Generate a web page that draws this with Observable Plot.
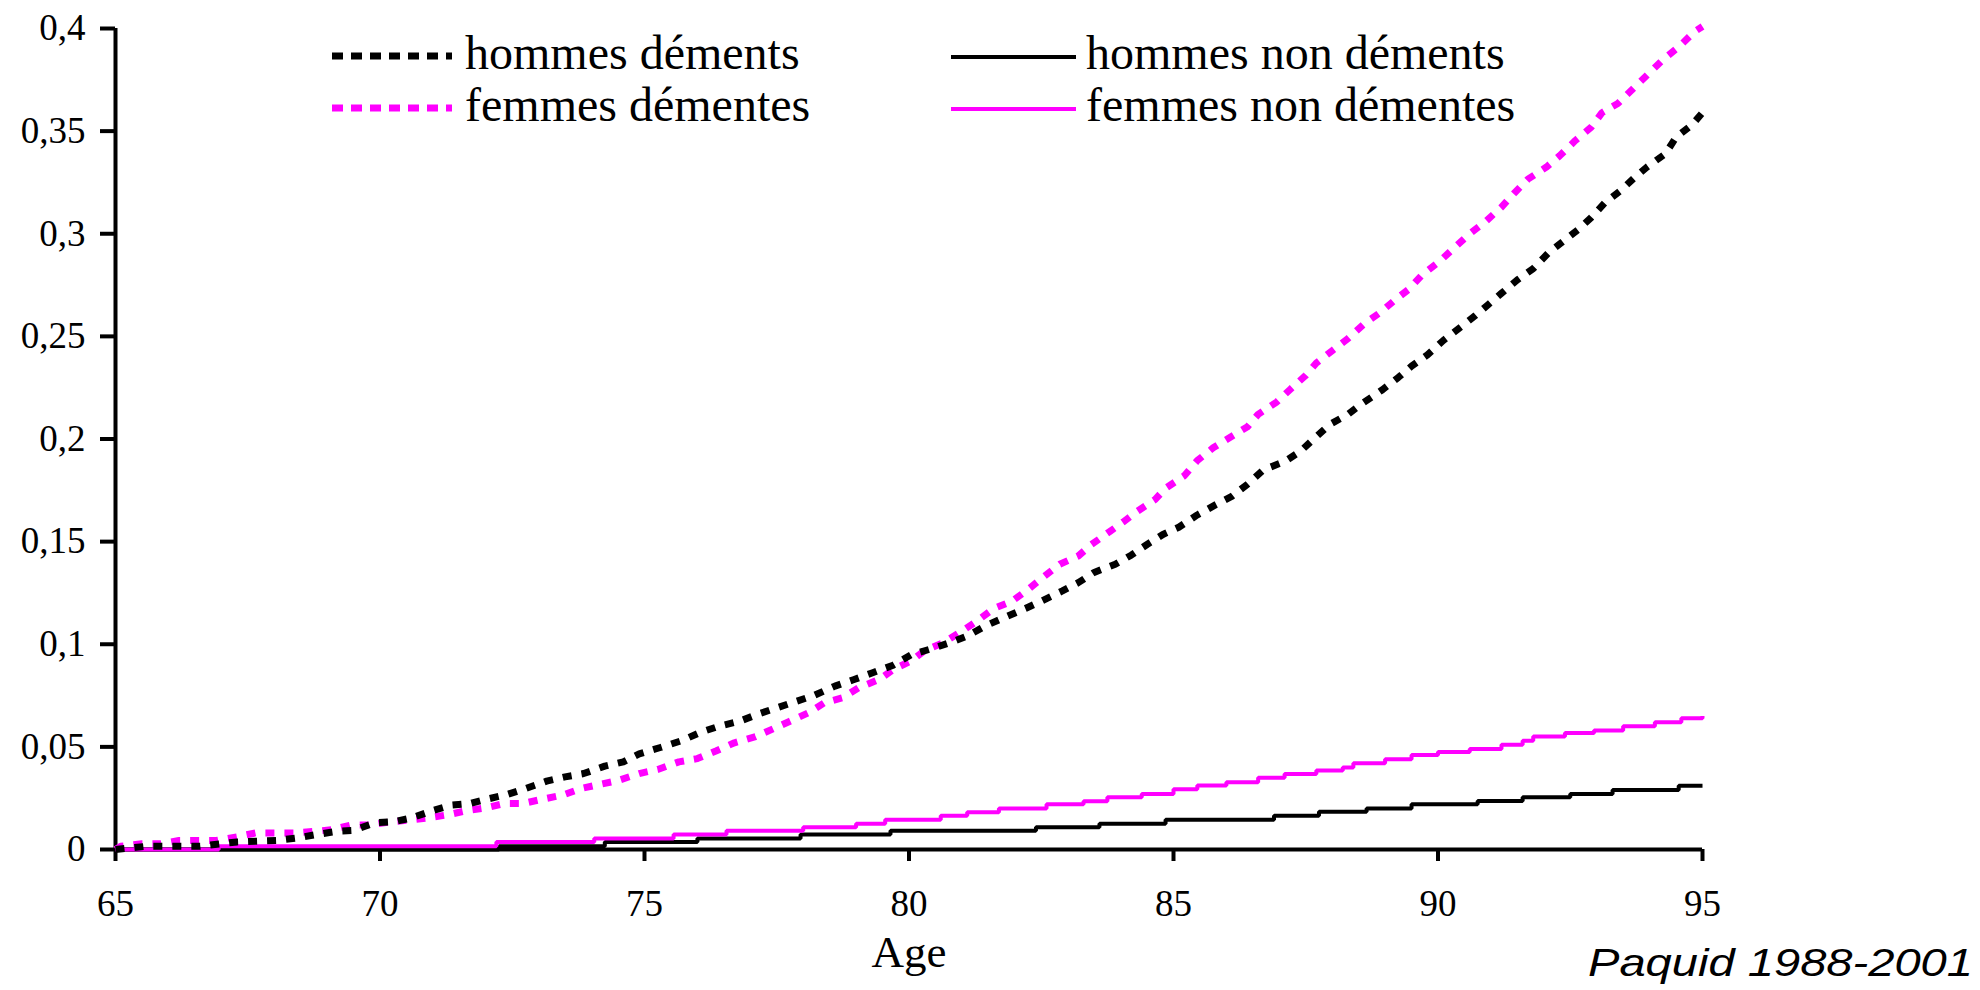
<!DOCTYPE html>
<html>
<head>
<meta charset="utf-8">
<script src="https://cdn.jsdelivr.net/npm/d3@7"></script>
<script src="https://cdn.jsdelivr.net/npm/@observablehq/plot@0.6"></script>
<style>
  html, body { margin: 0; padding: 0; background: #fff; }
  #wrap { position: relative; width: 1980px; height: 990px; overflow: hidden; }
  #wrap svg { position: absolute; left: 0; top: 0; }
</style>
</head>
<body>
<div id="wrap"></div>
<script>
// ---------------- data ----------------
const seriesNames = ["hommes déments", "femmes démentes", "hommes non déments", "femmes non démentes"];
const seriesColors = ["#000000", "#FF00FF", "#000000", "#FF00FF"];

const xDomain = [65, 95];
const yDomain = [0, 0.4];
const xTicks = [65, 70, 75, 80, 85, 90, 95];
const xTickLabels = ["65", "70", "75", "80", "85", "90", "95"];
const yTicks = [0, 0.05, 0.1, 0.15, 0.2, 0.25, 0.3, 0.35, 0.4];
const yTickLabels = ["0", "0,05", "0,1", "0,15", "0,2", "0,25", "0,3", "0,35", "0,4"];
const xLabel = "Age";
const caption = "Paquid 1988-2001";

// hommes déments
const hdAges = [65, 65.6, 66.6, 67.3, 68.05, 68.45, 68.8, 69.2, 69.5, 69.9, 70.25, 70.6, 71.0, 71.35, 71.7, 72.0, 72.4, 72.75, 73.15, 73.5, 73.85, 74.25, 74.6, 74.9, 75.3, 75.7, 76.05, 76.4, 76.8, 77.15, 77.5, 77.85, 78.2, 78.6, 78.95, 79.3, 79.7, 80.05, 80.45, 80.8, 81.1, 81.45, 81.8, 82.2, 82.5, 82.9, 83.2, 83.5, 83.9, 84.2, 84.5, 84.8, 85.1, 85.45, 85.8, 86.1, 86.4, 86.7, 87.1, 87.4, 87.65, 87.95, 88.3, 88.55, 88.95, 89.25, 89.5, 89.8, 90.1, 90.4, 90.7, 90.95, 91.2, 91.5, 91.8, 92.1, 92.35, 92.65, 92.9, 93.15, 93.45, 93.7, 93.95, 94.3, 94.5, 94.8, 95.0];
const hdValues = [0, 0.0016, 0.0016, 0.0037, 0.0044, 0.0057, 0.0073, 0.0089, 0.0093, 0.013, 0.0135, 0.0154, 0.019, 0.0216, 0.0224, 0.0244, 0.0268, 0.0297, 0.0333, 0.0354, 0.037, 0.0406, 0.0427, 0.0466, 0.0497, 0.053, 0.057, 0.060, 0.0625, 0.066, 0.069, 0.072, 0.075, 0.0796, 0.0827, 0.086, 0.0898, 0.095, 0.098, 0.101, 0.104, 0.109, 0.113, 0.1174, 0.121, 0.126, 0.130, 0.135, 0.139, 0.1434, 0.1486, 0.1535, 0.157, 0.163, 0.168, 0.172, 0.178, 0.185, 0.189, 0.194, 0.200, 0.207, 0.212, 0.217, 0.224, 0.230, 0.2355, 0.241, 0.248, 0.254, 0.260, 0.2655, 0.271, 0.2775, 0.283, 0.291, 0.296, 0.302, 0.308, 0.315, 0.321, 0.327, 0.3325, 0.339, 0.347, 0.353, 0.359];

// femmes démentes
const fdAges = [65, 65.1, 65.5, 65.85, 66.2, 66.9, 67.3, 67.65, 68.4, 68.8, 69.1, 69.45, 69.8, 70.2, 70.55, 70.9, 71.3, 71.65, 72.0, 72.35, 72.7, 73.05, 73.45, 73.8, 74.15, 74.5, 74.9, 75.25, 75.65, 76.0, 76.35, 76.7, 77.1, 77.45, 77.75, 78.1, 78.4, 78.75, 79.05, 79.45, 79.7, 80.05, 80.3, 80.65, 81.0, 81.3, 81.6, 81.95, 82.25, 82.55, 82.85, 83.2, 83.45, 83.8, 84.05, 84.3, 84.65, 84.85, 85.2, 85.45, 85.75, 86.05, 86.4, 86.6, 86.95, 87.2, 87.5, 87.7, 88.0, 88.3, 88.6, 88.9, 89.2, 89.45, 89.7, 90.05, 90.3, 90.6, 90.9, 91.2, 91.45, 91.7, 92.05, 92.3, 92.6, 92.9, 93.1, 93.4, 93.7, 93.98, 94.26, 94.55, 94.85, 95.0];
const fdValues = [0, 0.0016, 0.0028, 0.0028, 0.0044, 0.0044, 0.0062, 0.0081, 0.0081, 0.0089, 0.0097, 0.0119, 0.0119, 0.0135, 0.0143, 0.0154, 0.017, 0.019, 0.0203, 0.0224, 0.0224, 0.0244, 0.0265, 0.0297, 0.0317, 0.0336, 0.037, 0.039, 0.0427, 0.0443, 0.048, 0.052, 0.055, 0.059, 0.0625, 0.0666, 0.0715, 0.074, 0.0788, 0.083, 0.0877, 0.092, 0.097, 0.1007, 0.1064, 0.1116, 0.1174, 0.121, 0.1267, 0.133, 0.139, 0.143, 0.1486, 0.155, 0.1596, 0.1645, 0.1705, 0.176, 0.182, 0.1895, 0.1957, 0.2005, 0.206, 0.212, 0.218, 0.224, 0.231, 0.237, 0.243, 0.249, 0.256, 0.2615, 0.268, 0.273, 0.280, 0.287, 0.293, 0.300, 0.306, 0.313, 0.320, 0.3266, 0.3325, 0.338, 0.3455, 0.352, 0.359, 0.3635, 0.371, 0.378, 0.385, 0.391, 0.3985, 0.401];

// hommes non déments (step function)
const hndAges = [65, 72.25, 74.25, 76.0, 77.95, 79.65, 82.4, 83.6, 84.85, 86.9, 87.75, 88.65, 89.5, 90.75, 91.6, 92.5, 93.3, 94.55, 95];
const hndValues = [0, 0.0016, 0.0037, 0.0054, 0.0073, 0.0091, 0.0109, 0.0125, 0.0145, 0.0165, 0.0184, 0.020, 0.022, 0.0236, 0.0255, 0.027, 0.029, 0.031, 0.031];

// femmes non démentes (step function)
const fndAges = [65, 66.95, 72.2, 74.05, 75.55, 76.55, 78.0, 79.0, 79.55, 80.6, 81.1, 81.7, 82.6, 83.3, 83.75, 84.4, 85.0, 85.45, 86.0, 86.6, 87.1, 87.7, 88.2, 88.4, 89.0, 89.5, 90.0, 90.6, 91.2, 91.6, 91.8, 92.4, 92.95, 93.5, 94.1, 94.6, 95];
const fndValues = [0, 0.0016, 0.0037, 0.0054, 0.0073, 0.0091, 0.0109, 0.0125, 0.0145, 0.0164, 0.0182, 0.020, 0.022, 0.0235, 0.0255, 0.027, 0.0293, 0.0312, 0.0328, 0.035, 0.0368, 0.0385, 0.040, 0.042, 0.044, 0.046, 0.0475, 0.049, 0.051, 0.053, 0.055, 0.0567, 0.058, 0.060, 0.062, 0.064, 0.065];

// --------------- build ---------------
const toRows = (ages, values) => ages.map((a, i) => ({age: a, v: values[i]}));
const hd = toRows(hdAges, hdValues);
const fd = toRows(fdAges, fdValues);
const hnd = toRows(hndAges, hndValues);
const fnd = toRows(fndAges, fndValues);

const yLab = new Map(yTicks.map((t, i) => [t, yTickLabels[i]]));
const xLab = new Map(xTicks.map((t, i) => [t, xTickLabels[i]]));

const DASH = "9,10";
const LEGEND_DASH = "11,8";
const serif = "'Liberation Serif', 'Times New Roman', serif";

const chart = Plot.plot({
  width: 1980,
  height: 990,
  marginLeft: 115,
  marginRight: 278,
  marginTop: 28,
  marginBottom: 141,
  style: {fontFamily: serif, fontSize: "37px", color: "#000", background: "#fff", overflow: "visible"},
  x: {domain: xDomain},
  y: {domain: yDomain},
  marks: [
    Plot.axisY({ticks: yTicks, tickFormat: d => yLab.get(d), tickSize: 15, tickPadding: 15, strokeWidth: 4, label: null, fontSize: 37}),
    Plot.axisX({ticks: xTicks, tickFormat: d => xLab.get(d), tickSize: 12, tickPadding: 28, strokeWidth: 4, label: null, fontSize: 37}),
    Plot.ruleX([xDomain[0]], {y1: yDomain[0], y2: yDomain[1], stroke: "#000", strokeWidth: 4}),
    Plot.ruleY([yDomain[0]], {x1: xDomain[0], x2: xDomain[1], stroke: "#000", strokeWidth: 4}),
    Plot.line(hnd, {x: "age", y: "v", stroke: seriesColors[2], strokeWidth: 4, curve: "step-after", strokeLinejoin: "miter", strokeLinecap: "butt"}),
    Plot.line(fnd, {x: "age", y: "v", stroke: seriesColors[3], strokeWidth: 4, curve: "step-after", strokeLinejoin: "miter", strokeLinecap: "butt"}),
    Plot.line(fd, {x: "age", y: "v", stroke: seriesColors[1], strokeWidth: 7, strokeDasharray: DASH, strokeLinecap: "butt", curve: "linear"}),
    Plot.line(hd, {x: "age", y: "v", stroke: seriesColors[0], strokeWidth: 7, strokeDasharray: DASH, strokeLinecap: "butt", curve: "linear"}),
    Plot.text([xLabel], {frameAnchor: "bottom", lineAnchor: "bottom", dy: 117, fontSize: 45, fontFamily: serif, fill: "#000"})
  ]
});
document.getElementById("wrap").appendChild(chart);

// --------------- legend & caption overlay ---------------
const ov = d3.select("#wrap").append("svg")
  .attr("width", 1980).attr("height", 990)
  .style("pointer-events", "none");

const legendItems = [
  {name: seriesNames[0], color: seriesColors[0], dash: LEGEND_DASH, w: 7, x1: 332, x2: 452, y: 56, tx: 465, ty: 69},
  {name: seriesNames[1], color: seriesColors[1], dash: LEGEND_DASH, w: 7, x1: 332, x2: 452, y: 108, tx: 465, ty: 121},
  {name: seriesNames[2], color: seriesColors[2], dash: null, w: 4, x1: 951, x2: 1076, y: 57, tx: 1086, ty: 69},
  {name: seriesNames[3], color: seriesColors[3], dash: null, w: 4, x1: 951, x2: 1076, y: 109, tx: 1086, ty: 121}
];
for (const it of legendItems) {
  const l = ov.append("line")
    .attr("x1", it.x1).attr("x2", it.x2).attr("y1", it.y).attr("y2", it.y)
    .attr("stroke", it.color).attr("stroke-width", it.w);
  if (it.dash) l.attr("stroke-dasharray", it.dash);
  ov.append("text")
    .attr("x", it.tx).attr("y", it.ty)
    .attr("font-family", serif).attr("font-size", 48)
    .attr("fill", "#000")
    .text(it.name);
}
ov.append("text")
  .attr("x", 1973).attr("y", 976)
  .attr("text-anchor", "end")
  .attr("font-family", "'Liberation Sans', Arial, sans-serif")
  .attr("font-style", "italic")
  .attr("font-size", 39)
  .attr("textLength", 385)
  .attr("lengthAdjust", "spacingAndGlyphs")
  .attr("fill", "#000")
  .text(caption);
</script>
</body>
</html>
